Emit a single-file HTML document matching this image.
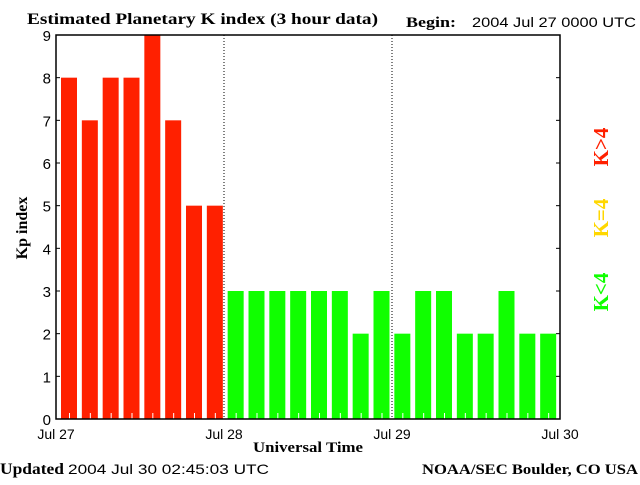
<!DOCTYPE html>
<html><head><meta charset="utf-8"><style>
body{margin:0;background:#fff;width:640px;height:480px;overflow:hidden}
svg text{font-family:"Liberation Sans",sans-serif}
.s{font-family:"Liberation Serif",serif;font-weight:bold}
</style></head><body>
<svg id="c" width="640" height="480">
<text class="s" x="27" y="24" font-size="16" textLength="351" lengthAdjust="spacingAndGlyphs">Estimated Planetary K index (3 hour data)</text>
<text class="s" x="406" y="27" font-size="15" textLength="50" lengthAdjust="spacingAndGlyphs">Begin:</text>
<text x="472" y="27" font-size="14" textLength="164" lengthAdjust="spacingAndGlyphs">2004 Jul 27 0000 UTC</text>
<text class="s" x="0" y="474" font-size="16" textLength="64" lengthAdjust="spacingAndGlyphs">Updated</text>
<text x="68" y="474" font-size="14" textLength="201" lengthAdjust="spacingAndGlyphs">2004 Jul 30 02:45:03 UTC</text>
<text class="s" x="422" y="474" font-size="15" textLength="216" lengthAdjust="spacingAndGlyphs">NOAA/SEC Boulder, CO USA</text>
<text class="s" x="253" y="452" font-size="15" textLength="110" lengthAdjust="spacingAndGlyphs">Universal Time</text>
<text class="s" transform="translate(27,228) rotate(-90)" font-size="16" text-anchor="middle">Kp index</text>
<text class="s" transform="translate(608,147) rotate(-90)" font-size="21" font-weight="normal" fill="#ff2000" text-anchor="middle">K&gt;4</text>
<text class="s" transform="translate(608,218) rotate(-90)" font-size="21" font-weight="normal" fill="#ffd700" text-anchor="middle">K=4</text>
<text class="s" transform="translate(608,292) rotate(-90)" font-size="21" font-weight="normal" fill="#10ff00" text-anchor="middle">K&lt;4</text>
<g id="plot"></g>
</svg>
<script>
const kpValues=[8,7,8,8,9,7,5,5,3,3,3,3,3,3,2,3,2,3,3,2,2,3,2,2];
const yTicks=[0,1,2,3,4,5,6,7,8,9];
const dayLabels=["Jul 27","Jul 28","Jul 29","Jul 30"];
const L=56,R=560,T=35,B=419;
const ns="http://www.w3.org/2000/svg";
const g=document.getElementById('plot');
const y=v=>B-(v/9)*(B-T);
const slot=(R-L)/kpValues.length;
const step=(R-L-4)/kpValues.length;
const x=i=>L+i*slot;
const bx=i=>L+5+i*step;
function mk(t,a){const e=document.createElementNS(ns,t);for(const k in a)e.setAttribute(k,a[k]);g.appendChild(e);return e;}
kpValues.forEach((v,i)=>{
 const col=v>4?'#ff2000':(v==4?'#ffd700':'#10ff00');
 const r=mk('rect',{x:bx(i),y:y(v),width:16,height:B-y(v),fill:col});
 
 
 const t=mk('line',{x1:bx(i)+8.5,x2:bx(i)+8.5,y1:B,y2:B-6,stroke:'#fff'});
 
 
});
[1,2].forEach(d=>{
 const l=mk('line',{x1:x(d*8),x2:x(d*8),y1:T,y2:B,stroke:'#000','stroke-dasharray':'1,2'});
 
 
});
const fr=mk('rect',{x:L,y:T,width:R-L,height:B-T,fill:'none',stroke:'#000','stroke-width':1.5});


yTicks.forEach(v=>{
 mk('line',{x1:L,x2:L+4,y1:y(v),y2:y(v),stroke:'#000'});
 mk('line',{x1:R,x2:R-4,y1:y(v),y2:y(v),stroke:'#000'});
 const t=mk('text',{x:L-5,y:y(v)+6,'font-size':15,'text-anchor':'end'});
 t.textContent=v;
 
 
});
dayLabels.forEach((d,i)=>{
 const t=mk('text',{x:x(i*8),y:439,'font-size':14,'text-anchor':'middle'});
 t.textContent=d;
 
 
});
</script>
</body></html>
